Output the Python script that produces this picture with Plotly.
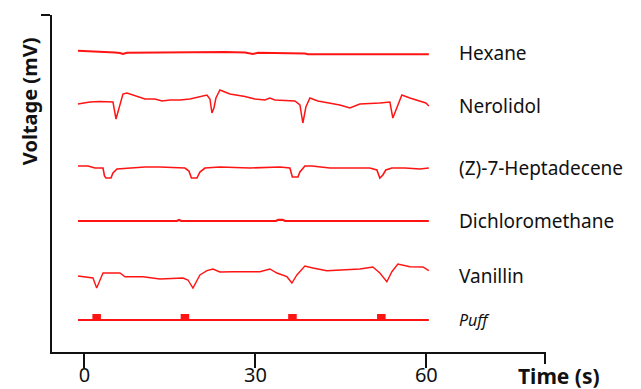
import plotly.graph_objects as go

# ---------------- data ----------------
trace_names = ["Hexane", "Nerolidol", "(Z)-7-Heptadecene", "Dichloromethane", "Vanillin"]
trace_offsets = [299.5, 246, 184, 131, 76]   # vertical stacking baseline of each trace (mV, arbitrary)

hexane_t = [-1.14, 2.72, 5.35, 6.23, 6.75, 7.46, 11.49, 20.26, 24.65, 28.16, 29.04, 29.56, 30.44,
            36.05, 38.68, 39.21, 43.07, 50.09, 55.35, 58.86, 60.44]
hexane_v = [1.7, 1.0, 0.0, -0.5, -1.5, -0.2, 0.0, 0.5, 0.5, 0.0, -0.5, -1.5, -0.3,
            -0.5, -1.0, -1.8, -1.8, -2.0, -1.8, -1.5, -1.8]

nerolidol_t = [-1.14, 0.96, 2.72, 4.47, 5.0, 5.53, 5.88, 6.23, 6.75, 7.46, 8.86, 10.61, 12.37,
               13.6, 15.0, 16.75, 18.51, 20.26, 21.49, 22.02, 22.37, 22.72, 23.07, 23.77, 24.3,
               25.53, 28.16, 29.91, 31.67, 32.54, 33.42, 36.93, 37.81, 38.33, 38.86, 39.56,
               40.96, 43.07, 44.82, 46.58, 48.33, 51.84, 53.6, 54.12, 54.65, 55.0, 55.7, 57.11,
               58.86, 59.91, 60.44]
nerolidol_v = [2, 4, 4.5, 4.5, 4, -13, -6, 2, 12, 13, 10, 7, 7,
               5, 6, 6, 7, 9, 11, 7, -7, -2, 8, 16, 15,
               12, 9.5, 7, 6, 8, 6, 5, 1, -17, -1, 8,
               5, 3, 1, -2, 2, 3, 4, -12, -4, 2, 11, 8,
               5, 3, 0]

heptadecene_t = [-1.14, 0.61, 1.84, 3.25, 3.51, 3.77, 4.65, 5.0, 5.7, 7.98, 10.61, 13.25,
                 17.63, 18.33, 18.77, 19.74, 20.26, 21.14, 23.77, 29.04, 34.3, 36.05, 36.49,
                 37.46, 37.81, 38.68, 39.91, 43.07, 50.09, 51.32, 51.84, 52.37, 52.89, 53.95,
                 56.23, 58.86, 60.44]
heptadecene_v = [2, 2, 0, 0, -8, -10, -10, -5, -1, 0, 1, 1,
                 0, -3, -10, -10, -4, 0, 1, 0, 1, 0, -9,
                 -9, -4, 2, 2, 0, 0, -2, -10, -7, -2, 0,
                 0, -1, 0]

dcm_t = [-1.14, 16.2, 16.6, 17.0, 33.6, 34.0, 34.8, 35.2, 60.44]
dcm_v = [0, 0, 1, 0, 0, 1.2, 1.2, 0, 0]

vanillin_t = [-1.14, 0.09, 1.49, 2.14, 2.72, 3.25, 4.47, 6.23, 7.11, 10.26, 13.25, 17.28, 18.16,
              19.04, 20.26, 21.49, 22.54, 23.77, 26.05, 30.79, 32.54, 33.77, 35.53, 36.4, 37.28,
              38.68, 40.09, 42.54, 48.33, 50.61, 51.84, 53.07, 53.95, 55.0, 57.11, 59.39, 60.44]
vanillin_v = [0, -1, -2, -12, -5, 3, 3, 3, -0.7, -0.7, -3, -2, -4,
              -12, 1, 5.3, 7, 4, 4.3, 4.3, 7, 3, -0.7, -7, 1,
              10, 8, 5.3, 7, 9, 3, -5.7, 4.3, 12, 9.3, 9, 5.3]

puff_offset = 32
puff_times = [2.14, 17.63, 36.5, 52.1]     # stimulus puff centres (s)
puff_duration = 1.5                         # s
puff_height = 6.5
record_start, record_end = -1.14, 60.44

x_ticks = [0, 30, 60]

# ---------------- figure ----------------
RED = "#ff1414"
series_t = [hexane_t, nerolidol_t, heptadecene_t, dcm_t, vanillin_t]
series_v = [hexane_v, nerolidol_v, heptadecene_v, dcm_v, vanillin_v]
widths = [2, 1.5, 1.6, 2.2, 1.4]

fig = go.Figure()
for name, off, t, v, w in zip(trace_names, trace_offsets, series_t, series_v, widths):
    fig.add_trace(go.Scatter(x=t, y=[off + val for val in v], mode="lines",
                             line=dict(color=RED, width=w), name=name,
                             showlegend=False, hoverinfo="skip"))

# puff line and markers
fig.add_trace(go.Scatter(x=[record_start, record_end], y=[puff_offset, puff_offset],
                         mode="lines", line=dict(color=RED, width=2),
                         showlegend=False, hoverinfo="skip"))
fig.add_trace(go.Bar(x=puff_times, y=[puff_height] * len(puff_times), base=puff_offset - 0.5,
                     width=puff_duration, marker=dict(color=RED, line=dict(width=0)),
                     showlegend=False, hoverinfo="skip"))

FONT = "Noto Sans"
annotations = []
for name, off in zip(trace_names, trace_offsets):
    annotations.append(dict(x=65.3, y=off, xref="x", yref="y", text=name, showarrow=False,
                            xanchor="left", yanchor="middle",
                            font=dict(family=FONT, size=19, color="#111")))
annotations.append(dict(x=65.3, y=puff_offset, xref="x", yref="y", text="<i>Puff</i>",
                        showarrow=False, xanchor="left", yanchor="middle",
                        font=dict(family=FONT, size=16, color="#111")))
annotations.append(dict(x=-0.0455, y=0.743, xref="paper", yref="paper", text="<b>Voltage (mV)</b>",
                        showarrow=False, textangle=-90, xanchor="center", yanchor="middle",
                        font=dict(family=FONT, size=20, color="#111")))
annotations.append(dict(x=0.941, y=-0.071, xref="paper", yref="paper", text="<b>Time (s)</b>",
                        showarrow=False, xanchor="left", yanchor="middle", borderpad=0,
                        font=dict(family=FONT, size=21, color="#111")))

fig.update_layout(
    width=641, height=389,
    margin=dict(l=52, r=95, t=15, b=37, autoexpand=False),
    paper_bgcolor="white", plot_bgcolor="white",
    barmode="overlay",
    annotations=annotations,
    xaxis=dict(range=[-5.7, 81.0], showgrid=False, zeroline=False, automargin=False,
               showline=True, linewidth=2, linecolor="#111",
               ticks="outside", tickvals=x_ticks, ticklen=14, tickwidth=2, tickcolor="#111",
               ticklabelstandoff=-10,
               tickfont=dict(family=FONT, size=20, color="#111"),
               minor=dict(tickvals=[80.9], ticks="outside", ticklen=10, tickwidth=2,
                          tickcolor="#111", showgrid=False)),
    yaxis=dict(range=[0, 337], showgrid=False, zeroline=False, automargin=False,
               showline=True, linewidth=2, linecolor="#111",
               ticks="outside", tickvals=[336.8], ticklen=9, tickwidth=2, tickcolor="#111",
               showticklabels=False),
)

fig.write_html("out.html")
